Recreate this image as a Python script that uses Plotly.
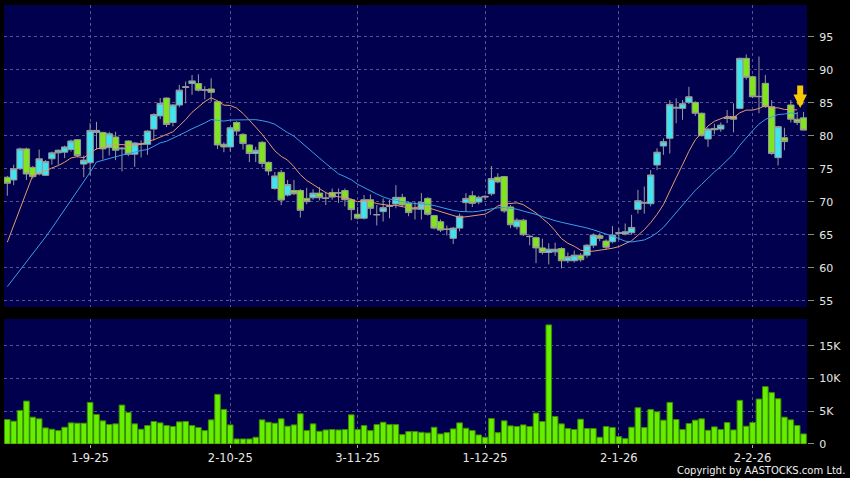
import pandas as pd
import plotly.graph_objects as go

# ---------------- data ----------------
holidays = ["2025-10-01", "2025-10-07", "2025-10-29", "2025-12-25", "2025-12-26", "2026-01-01"]
dates = [d.strftime("%Y-%m-%d") for d in pd.bdate_range("2025-08-13", "2026-02-12")
         if d.strftime("%Y-%m-%d") not in holidays]

opens = [73.7, 73.3, 75.0, 78.0, 75.2, 74.2, 74.0, 76.5, 77.4, 77.5,
         77.9, 79.4, 75.7, 75.9, 80.5, 80.5, 78.2, 79.8, 78.0, 79.2,
         77.2, 78.7, 78.7, 81.0, 83.0, 85.7, 82.0, 84.65, 87.3, 87.9,
         87.9, 86.9, 87.07, 85.15, 78.7, 78.3, 82.0, 80.2, 78.6, 77.3,
         79.0, 75.96, 72.0, 74.45, 71.0, 71.7, 71.7, 70.5, 70.6, 71.3,
         70.5, 71.4, 71.3, 71.7, 70.3, 68.1, 67.5, 70.3, 68.0, 68.5,
         69.3, 69.65, 70.66, 69.75, 68.9, 68.85, 70.5, 67.9, 66.97, 65.8,
         64.45, 66.0, 69.85, 70.9, 69.95, 70.7, 71.2, 73.7, 73.8, 69.2,
         66.2, 67.2, 64.7, 64.55, 63.0, 62.3, 62.4, 62.9, 61.06, 61.06,
         61.9, 61.9, 63.4, 64.85, 64.04, 63.94, 65.2, 65.1, 65.3, 68.84,
         69.85, 69.7, 75.56, 78.44, 79.6, 84.3, 84.14, 85.05, 85.05, 83.4,
         79.5, 80.9, 81.0, 82.6, 82.9, 84.14, 91.72, 88.94, 85.9, 87.93,
         84.4, 76.67, 79.7, 84.65, 82.5, 82.7]
highs = [73.9, 75.6, 78.2, 78.2, 75.4, 77.9, 76.3, 77.6, 77.9, 78.5,
         79.4, 79.5, 77.0, 81.9, 82.1, 80.6, 80.6, 80.6, 78.3, 79.3,
         79.0, 79.3, 80.8, 83.4, 85.7, 85.8, 84.8, 87.7, 88.2, 89.2,
         89.3, 87.5, 88.7, 85.3, 79.0, 81.4, 82.2, 80.4, 78.7, 78.3,
         79.2, 76.1, 74.5, 74.8, 73.3, 73.3, 71.9, 72.1, 71.9, 72.2,
         71.5, 72.0, 72.0, 72.0, 70.5, 69.2, 71.0, 71.1, 69.5, 70.5,
         70.3, 72.5, 71.2, 70.0, 70.0, 71.3, 70.7, 68.0, 67.3, 66.4,
         66.2, 68.2, 71.3, 71.6, 70.9, 71.0, 75.4, 74.3, 73.9, 69.5,
         67.5, 67.4, 65.0, 64.7, 64.4, 63.7, 63.8, 63.1, 62.3, 62.6,
         62.2, 63.6, 65.2, 65.2, 64.3, 66.3, 66.0, 66.7, 68.0, 71.8,
         72.3, 74.8, 78.1, 79.6, 85.4, 85.66, 85.4, 87.4, 85.2, 83.5,
         81.2, 81.8, 82.0, 83.9, 84.9, 91.8, 92.3, 89.1, 92.0, 89.2,
         85.4, 81.5, 81.2, 85.4, 83.6, 83.6]
lows = [70.9, 72.5, 74.8, 73.3, 73.5, 74.0, 73.9, 75.6, 75.6, 76.6,
        77.6, 76.7, 73.7, 74.0, 77.9, 76.4, 77.0, 76.3, 74.6, 76.9,
        75.3, 76.7, 77.1, 79.3, 82.5, 81.3, 81.4, 84.3, 84.9, 86.2,
        86.7, 85.5, 85.15, 78.0, 77.5, 77.6, 80.0, 77.9, 76.0, 76.0,
        75.2, 74.0, 71.8, 69.5, 70.8, 71.0, 67.6, 69.6, 70.3, 70.2,
        69.5, 70.3, 69.8, 69.3, 67.2, 67.3, 67.3, 68.0, 66.4, 67.0,
        67.5, 69.0, 69.2, 67.8, 67.3, 67.3, 67.9, 65.8, 65.4, 64.9,
        63.6, 65.5, 68.5, 69.2, 69.6, 70.3, 70.9, 72.8, 68.3, 66.0,
        65.8, 64.8, 63.4, 60.7, 62.0, 60.5, 61.8, 59.9, 60.7, 60.8,
        60.9, 61.5, 63.0, 64.0, 62.8, 63.7, 64.2, 64.9, 65.0, 68.2,
        68.2, 69.3, 74.8, 77.1, 77.3, 81.9, 82.4, 84.8, 83.0, 79.9,
        78.3, 80.2, 80.6, 81.9, 80.5, 84.0, 88.5, 85.7, 83.4, 84.2,
        77.1, 75.5, 77.8, 82.0, 81.6, 80.8]
closes = [72.8, 75.0, 78.0, 74.2, 73.8, 76.5, 76.1, 77.4, 77.8, 78.3,
          79.2, 77.0, 76.3, 80.8, 80.8, 78.0, 80.3, 77.8, 78.1, 77.2,
          78.9, 78.8, 80.7, 83.2, 84.9, 81.7, 84.65, 86.9, 87.4, 88.3,
          86.9, 86.95, 86.57, 78.6, 78.3, 81.2, 80.7, 78.8, 77.3, 77.8,
          75.8, 74.65, 73.9, 70.25, 72.6, 71.2, 68.7, 70.0, 71.3, 70.6,
          70.55, 70.7, 71.35, 70.3, 68.8, 67.5, 70.3, 69.0, 68.05, 69.1,
          69.35, 70.66, 69.5, 68.35, 68.95, 69.9, 68.1, 66.0, 65.7, 65.85,
          66.0, 67.8, 70.5, 69.75, 70.66, 70.8, 73.5, 73.0, 68.6, 66.5,
          67.2, 65.0, 64.75, 63.0, 62.3, 62.8, 62.8, 61.06, 61.67, 61.9,
          61.2, 63.4, 64.95, 64.45, 63.1, 64.95, 65.3, 65.45, 66.1, 70.15,
          69.8, 74.05, 77.5, 79.1, 84.75, 84.2, 84.85, 85.9, 83.4, 80.0,
          81.0, 81.1, 81.6, 82.7, 82.5, 91.72, 88.84, 85.9, 85.95, 84.4,
          77.3, 81.37, 79.1, 82.5, 82.0, 80.85]
volumes = [3740, 3490, 5130, 6560, 4100, 3850, 2460, 2260, 2050, 2560,
           3230, 3180, 3180, 6360, 4510, 3540, 2970, 3080, 5950, 4820,
           3080, 2260, 2820, 3440, 3230, 2820, 2670, 3380, 3440, 2820,
           2510, 2050, 3690, 7590, 5280, 2920, 770, 770, 770, 1030,
           3690, 3330, 3180, 3850, 2720, 2920, 4620, 2050, 3080, 1950,
           2150, 2210, 2150, 2210, 4460, 2210, 2820, 2050, 2970, 3330,
           2970, 2970, 1440, 1900, 1900, 1790, 1690,
           2560, 1540, 1740, 2310, 3230, 2410, 2050, 1380, 1030, 3900,
           1740, 3540, 2770, 2670, 2920, 2670, 4720, 3440, 18200, 4210,
           3080, 2360, 2210, 3790, 2360, 2360, 1030, 2670, 2510, 1130,
           820, 2560, 5540, 2510, 5280, 4920, 3640, 6360, 3740, 2210,
           3130, 3640, 3850, 2100, 2620, 2210, 3280, 2150, 6670, 2720,
           3280, 6870, 8770, 7850, 6920, 4100, 3690, 2820, 1540]
# closes before the visible window (needed for the moving averages)
prior_closes = [50.5, 51.0, 50.2, 49.8, 50.6, 51.2, 50.4, 49.9, 50.3, 50.1,
                49.6, 50.2, 50.0, 49.8, 72.5, 73.4, 73.0, 74.1, 73.2]

tick_dates = ["2025-09-01", "2025-10-02", "2025-11-03", "2025-12-01", "2026-01-02", "2026-02-02"]
tick_labels = ["1-9-25", "2-10-25", "3-11-25", "1-12-25", "2-1-26", "2-2-26"]
price_ticks = [55, 60, 65, 70, 75, 80, 85, 90, 95]
vol_ticks = [0, 5000, 10000, 15000]
vol_tick_labels = ["0", "5K", "10K", "15K"]

# ---------------- derived ----------------
all_closes = pd.Series(prior_closes + closes)
n_prior = len(prior_closes)
ma10 = all_closes.rolling(10).mean().tolist()[n_prior:]
ma20 = all_closes.rolling(20).mean().tolist()[n_prior:]

CYAN = "#3fe4f0"
GREEN = "#80e41e"
VOLG = "#66ee00"
WICK = "#9a9a9a"
GRID = "#55558c"
TXT = "#e6e6e6"
FONT = "DejaVu Sans"

fig = go.Figure()
fig.add_trace(go.Candlestick(
    x=dates, open=opens, high=highs, low=lows, close=closes,
    increasing=dict(fillcolor=CYAN, line=dict(color=WICK, width=1)),
    decreasing=dict(fillcolor=GREEN, line=dict(color=WICK, width=1)),
    whiskerwidth=0, showlegend=False, xaxis="x", yaxis="y"))
fig.add_trace(go.Scatter(x=dates[:-1], y=ma10[:-1], mode="lines",
                         line=dict(color="#e49a6c", width=1), showlegend=False,
                         xaxis="x", yaxis="y"))
fig.add_trace(go.Scatter(x=dates[:-1], y=ma20[:-1], mode="lines",
                         line=dict(color="#3a9fe6", width=1), showlegend=False,
                         xaxis="x", yaxis="y"))
fig.add_trace(go.Bar(x=dates, y=volumes, marker=dict(color=VOLG, line=dict(color="#3c8c00", width=1)),
                     showlegend=False, xaxis="x2", yaxis="y2"))

xr = [-0.52, len(dates) - 0.46]
common_x = dict(type="category", range=xr, showgrid=True, gridcolor=GRID, griddash="3px,3px",
                gridwidth=1, tickvals=tick_dates, ticktext=tick_labels, zeroline=False,
                showline=False, fixedrange=True)

fig.update_layout(
    width=850, height=478,
    margin=dict(l=4, r=43, t=5, b=34),
    paper_bgcolor="black", plot_bgcolor="#00004f",
    font=dict(family=FONT, size=11, color=TXT),
    bargap=0.12, boxgap=0.0, boxgroupgap=0.0,
    xaxis=dict(common_x, anchor="y", showticklabels=False, ticks="",
               rangeslider=dict(visible=False), matches="x2"),
    xaxis2=dict(common_x, anchor="y2", showticklabels=True, ticks="outside",
                ticklen=3, tickcolor="#aaaaaa", tickfont=dict(size=11.5, color=TXT)),
    yaxis=dict(domain=[0.3121, 1.0], range=[54.05, 99.8], side="right", tickvals=price_ticks,
               showgrid=True, gridcolor=GRID, griddash="3px,3px", zeroline=False,
               ticks="outside", ticklen=6, tickcolor="#888888", ticklabelstandoff=3,
               tickfont=dict(size=11, color=TXT), fixedrange=True),
    yaxis2=dict(domain=[0.0, 0.2847], range=[0, 19100], side="right", tickvals=vol_ticks,
                ticktext=vol_tick_labels, showgrid=True, gridcolor=GRID, griddash="3px,3px",
                zeroline=False, ticks="outside", ticklen=6, tickcolor="#888888",
                ticklabelstandoff=3, tickfont=dict(size=11, color=TXT), fixedrange=True),
)

fig.add_annotation(x=dates[-2], y=84.2, xref="x", yref="y", xshift=3,
                   ax=0, ay=-24, showarrow=True, arrowhead=2, arrowsize=0.45,
                   arrowwidth=6, arrowcolor="#f6c800", text="")
fig.add_annotation(x=1.0, y=0.0, xref="paper", yref="paper", xanchor="right", yanchor="top",
                   xshift=40, yshift=-19, text="Copyright by AASTOCKS.com Ltd.", showarrow=False,
                   font=dict(size=10, color="#f0f0f0", family=FONT))

fig.write_html("out.html", config={"displayModeBar": False},
               post_script="document.body.style.margin='0px';document.body.style.background='black';")
